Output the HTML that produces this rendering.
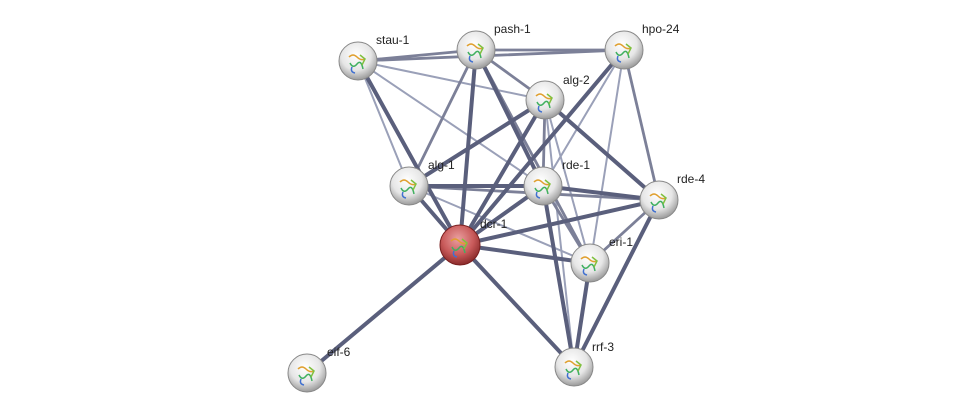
<!DOCTYPE html>
<html><head><meta charset="utf-8"><style>
html,body{margin:0;padding:0;background:#fff;width:976px;height:419px;overflow:hidden}
text{font-family:"Liberation Sans",sans-serif;font-size:12px;fill:#222}
</style></head><body>
<svg width="976" height="419" viewBox="0 0 976 419" xmlns="http://www.w3.org/2000/svg">
<defs>
<radialGradient id="g" cx="45%" cy="35%" r="65%">
<stop offset="0" stop-color="#ffffff"/><stop offset="0.6" stop-color="#e6e6e6"/><stop offset="1" stop-color="#9a9a9a"/>
</radialGradient>
<radialGradient id="r" cx="45%" cy="35%" r="65%">
<stop offset="0" stop-color="#eaa0a0"/><stop offset="0.6" stop-color="#c85a5a"/><stop offset="1" stop-color="#8a2a2a"/>
</radialGradient>
<g id="p" fill="none" stroke-width="1.5">
<path d="M-9,-6 q4,-4 8,0 t8,2" stroke="#e0a030"/>
<path d="M-8,0 q3,6 7,1 t6,5" stroke="#40b060"/>
<path d="M-6,4 q-2,5 3,6" stroke="#4070d0"/>
<path d="M2,-8 l5,4 -3,6" stroke="#80c040"/>
</g>
</defs>
<g stroke-linecap="round">
<g stroke="#9aa0b8" stroke-width="2">
<line x1="358" y1="61" x2="545" y2="100"/>
<line x1="358" y1="61" x2="409" y2="186"/>
<line x1="358" y1="61" x2="543" y2="186"/>
<line x1="409" y1="186" x2="590" y2="263"/>
<line x1="545" y1="100" x2="574" y2="367"/>
<line x1="545" y1="100" x2="590" y2="263"/>
<line x1="624" y1="50" x2="574" y2="367"/>
<line x1="624" y1="50" x2="543" y2="186"/>
<line x1="543" y1="186" x2="574" y2="367"/>
</g>
<g stroke="#7c8098" stroke-width="2.8">
<line x1="358" y1="61" x2="476" y2="50"/>
<line x1="358" y1="61" x2="624" y2="50"/>
<line x1="476" y1="50" x2="624" y2="50"/>
<line x1="476" y1="50" x2="545" y2="100"/>
<line x1="476" y1="50" x2="409" y2="186"/>
<line x1="476" y1="50" x2="590" y2="263"/>
<line x1="624" y1="50" x2="659" y2="200"/>
<line x1="545" y1="100" x2="543" y2="186"/>
<line x1="409" y1="186" x2="659" y2="200"/>
<line x1="543" y1="186" x2="590" y2="263"/>
<line x1="659" y1="200" x2="590" y2="263"/>
</g>
<g stroke="#5a5f7c" stroke-width="4">
<line x1="358" y1="61" x2="460" y2="245"/>
<line x1="476" y1="50" x2="460" y2="245"/>
<line x1="476" y1="50" x2="543" y2="186"/>
<line x1="624" y1="50" x2="460" y2="245"/>
<line x1="545" y1="100" x2="460" y2="245"/>
<line x1="545" y1="100" x2="409" y2="186"/>
<line x1="545" y1="100" x2="659" y2="200"/>
<line x1="409" y1="186" x2="460" y2="245"/>
<line x1="409" y1="186" x2="543" y2="186"/>
<line x1="543" y1="186" x2="460" y2="245"/>
<line x1="543" y1="186" x2="659" y2="200"/>
<line x1="543" y1="186" x2="574" y2="367"/>
<line x1="659" y1="200" x2="460" y2="245"/>
<line x1="659" y1="200" x2="574" y2="367"/>
<line x1="460" y1="245" x2="590" y2="263"/>
<line x1="460" y1="245" x2="574" y2="367"/>
<line x1="460" y1="245" x2="307" y2="373"/>
<line x1="590" y1="263" x2="574" y2="367"/>
</g>
</g>
<g stroke="#888" stroke-width="1">
<circle cx="358" cy="61" r="19" fill="url(#g)"/>
<circle cx="476" cy="50" r="19" fill="url(#g)"/>
<circle cx="624" cy="50" r="19" fill="url(#g)"/>
<circle cx="545" cy="100" r="19" fill="url(#g)"/>
<circle cx="409" cy="186" r="19" fill="url(#g)"/>
<circle cx="543" cy="186" r="19" fill="url(#g)"/>
<circle cx="659" cy="200" r="19" fill="url(#g)"/>
<circle cx="460" cy="245" r="20" fill="url(#r)" stroke="#7a2020"/>
<circle cx="590" cy="263" r="19" fill="url(#g)"/>
<circle cx="574" cy="367" r="19" fill="url(#g)"/>
<circle cx="307" cy="373" r="19" fill="url(#g)"/>
</g>
<use href="#p" x="358" y="63"/><use href="#p" x="476" y="52"/><use href="#p" x="624" y="52"/>
<use href="#p" x="545" y="102"/><use href="#p" x="409" y="188"/><use href="#p" x="543" y="188"/>
<use href="#p" x="659" y="202"/><use href="#p" x="460" y="247"/><use href="#p" x="590" y="265"/>
<use href="#p" x="574" y="369"/><use href="#p" x="307" y="375"/>
<text x="376" y="44">stau-1</text>
<text x="494" y="33">pash-1</text>
<text x="642" y="33">hpo-24</text>
<text x="563" y="84">alg-2</text>
<text x="428" y="169">alg-1</text>
<text x="562" y="169">rde-1</text>
<text x="677" y="183">rde-4</text>
<text x="480" y="228">dcr-1</text>
<text x="609" y="246">eri-1</text>
<text x="592" y="351">rrf-3</text>
<text x="327" y="356">eif-6</text>
</svg>
</body></html>
